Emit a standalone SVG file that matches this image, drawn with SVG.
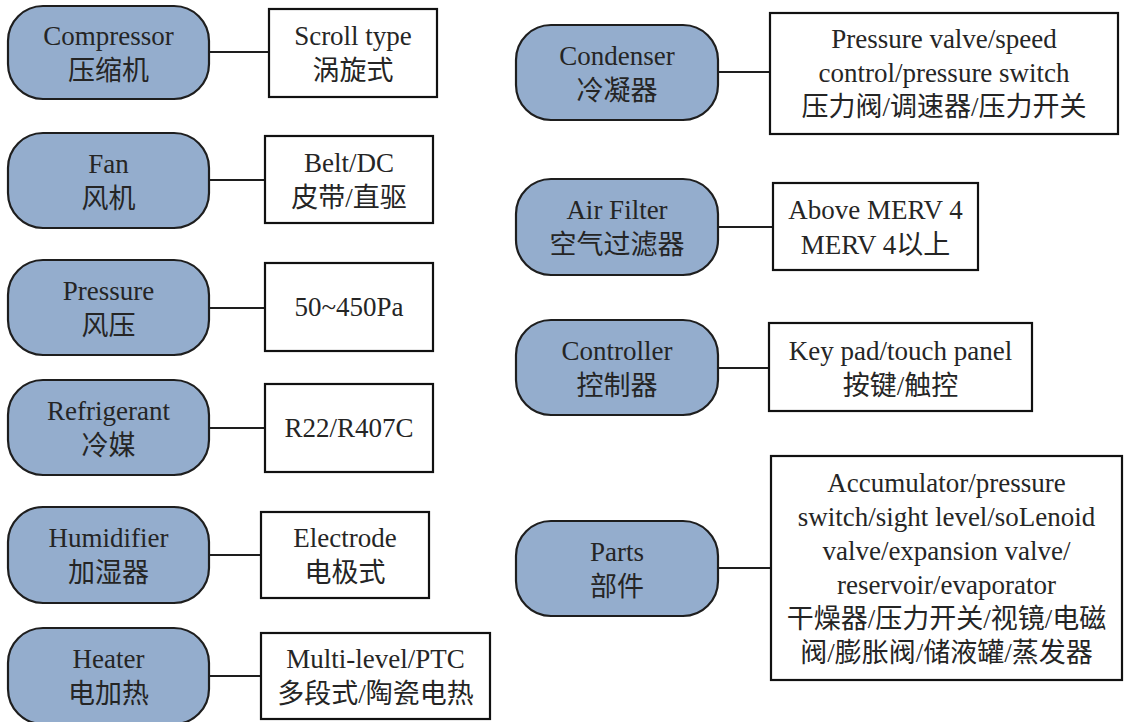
<svg xmlns="http://www.w3.org/2000/svg" width="1124" height="722" viewBox="0 0 1124 722">
<style>
.pill{fill:#94adcd;stroke:#1e1e1e;stroke-width:2.2}
.box{fill:#ffffff;stroke:#111111;stroke-width:2.2}
.ln{stroke:#1e1e1e;stroke-width:2.2;fill:none}
text{font-family:'Liberation Serif','Times New Roman','DejaVu Serif','Noto Sans CJK SC',serif;font-size:27px;fill:#252525;text-anchor:middle}
</style>
<rect width="1124" height="722" fill="#ffffff"/>
<g id="connectors">
<line class="ln" x1="209" y1="52" x2="269" y2="52"/>
<line class="ln" x1="209" y1="180" x2="265" y2="180"/>
<line class="ln" x1="209" y1="308" x2="265" y2="308"/>
<line class="ln" x1="209" y1="428" x2="265" y2="428"/>
<line class="ln" x1="209" y1="555" x2="261" y2="555"/>
<line class="ln" x1="209" y1="676" x2="261" y2="676"/>
<line class="ln" x1="718" y1="72" x2="770" y2="72"/>
<line class="ln" x1="718" y1="227" x2="773" y2="227"/>
<line class="ln" x1="718" y1="368" x2="769" y2="368"/>
<line class="ln" x1="718" y1="568" x2="771" y2="568"/>
</g>
<g id="compressor"><rect class="pill" x="8" y="6" width="201" height="93" rx="35"/><text x="108.5" y="45">Compressor</text><text x="108.5" y="80">压缩机</text></g>
<g id="compressor-type"><rect class="box" x="269" y="9" width="168" height="88"/><text x="353" y="45">Scroll type</text><text x="353" y="80">涡旋式</text></g>
<g id="fan"><rect class="pill" x="8" y="133" width="201" height="95" rx="35"/><text x="108.5" y="173">Fan</text><text x="108.5" y="208">风机</text></g>
<g id="fan-type"><rect class="box" x="265" y="136" width="168" height="87"/><text x="349" y="172">Belt/DC</text><text x="349" y="207">皮带/直驱</text></g>
<g id="pressure"><rect class="pill" x="8" y="260" width="201" height="95" rx="35"/><text x="108.5" y="300">Pressure</text><text x="108.5" y="335">风压</text></g>
<g id="pressure-range"><rect class="box" x="265" y="263" width="168" height="88"/><text x="349" y="316">50~450Pa</text></g>
<g id="refrigerant"><rect class="pill" x="8" y="380" width="201" height="95" rx="35"/><text x="108.5" y="420">Refrigerant</text><text x="108.5" y="455">冷媒</text></g>
<g id="refrigerant-type"><rect class="box" x="265" y="384" width="168" height="88"/><text x="349" y="437">R22/R407C</text></g>
<g id="humidifier"><rect class="pill" x="8" y="507" width="201" height="96" rx="35"/><text x="108.5" y="547">Humidifier</text><text x="108.5" y="582">加湿器</text></g>
<g id="humidifier-type"><rect class="box" x="261" y="512" width="168" height="86"/><text x="345" y="547">Electrode</text><text x="345" y="582">电极式</text></g>
<g id="heater"><rect class="pill" x="8" y="628" width="201" height="96" rx="35"/><text x="108.5" y="668">Heater</text><text x="108.5" y="703">电加热</text></g>
<g id="heater-type"><rect class="box" x="261" y="633" width="229" height="86"/><text x="375.5" y="668">Multi-level/PTC</text><text x="375.5" y="703">多段式/陶瓷电热</text></g>
<g id="condenser"><rect class="pill" x="516" y="25" width="202" height="95" rx="35"/><text x="617" y="65">Condenser</text><text x="617" y="100">冷凝器</text></g>
<g id="condenser-type"><rect class="box" x="770" y="13" width="348" height="121"/><text x="944" y="48">Pressure valve/speed</text><text x="944" y="82">control/pressure switch</text><text x="944" y="116">压力阀/调速器/压力开关</text></g>
<g id="air-filter"><rect class="pill" x="516" y="179" width="202" height="96" rx="35"/><text x="617" y="219">Air Filter</text><text x="617" y="254">空气过滤器</text></g>
<g id="air-filter-type"><rect class="box" x="773" y="183" width="205" height="87"/><text x="875.5" y="219">Above MERV 4</text><text x="875.5" y="254">MERV 4以上</text></g>
<g id="controller"><rect class="pill" x="516" y="320" width="202" height="95" rx="35"/><text x="617" y="360">Controller</text><text x="617" y="395">控制器</text></g>
<g id="controller-type"><rect class="box" x="769" y="323" width="263" height="88"/><text x="900.5" y="360">Key pad/touch panel</text><text x="900.5" y="395">按键/触控</text></g>
<g id="parts"><rect class="pill" x="516" y="521" width="202" height="95" rx="35"/><text x="617" y="561">Parts</text><text x="617" y="596">部件</text></g>
<g id="parts-list"><rect class="box" x="771" y="456" width="351" height="224"/><text x="946.5" y="492">Accumulator/pressure</text><text x="946.5" y="526">switch/sight level/soLenoid</text><text x="946.5" y="560">valve/expansion valve/</text><text x="946.5" y="594">reservoir/evaporator</text><text x="946.5" y="628">干燥器/压力开关/视镜/电磁</text><text x="946.5" y="662">阀/膨胀阀/储液罐/蒸发器</text></g>
</svg>
